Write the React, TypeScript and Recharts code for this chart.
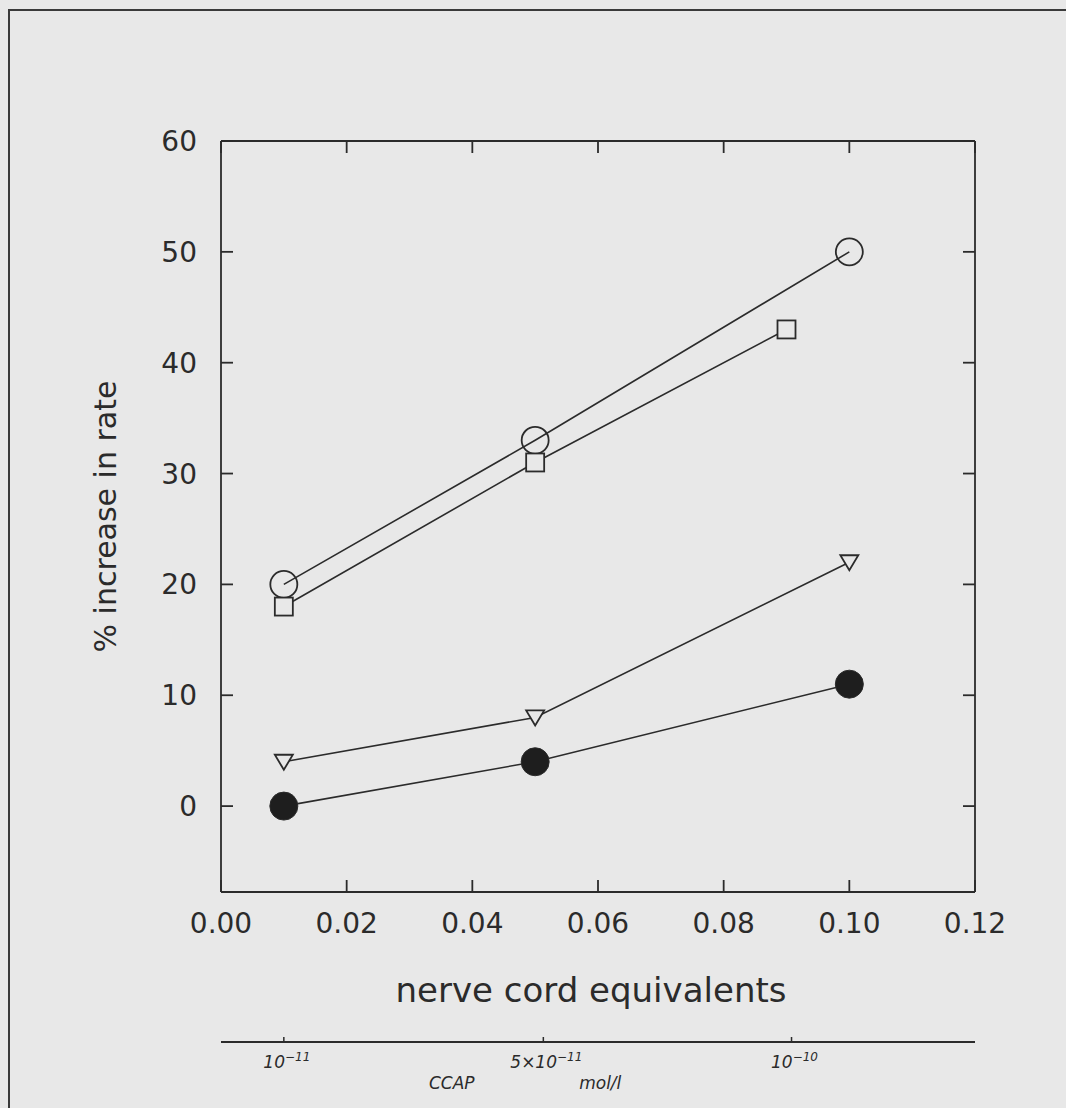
import { LineChart, Line, XAxis, YAxis, Label } from 'recharts';

// concentrations in nerve cord equivalents
const conc = [0.01, 0.05, 0.1];
const concSquare = [0.01, 0.05, 0.09];

// % increase in rate for the four preparations
const openCircle = [20, 33, 50];
const openSquare = [18, 31, 43];
const openTriangle = [4, 8, 22];
const filledCircle = [0, 4, 11];

const xTicks = [0, 0.02, 0.04, 0.06, 0.08, 0.1, 0.12];
const yTicks = [0, 10, 20, 30, 40, 50, 60];

// hand drawn CCAP scale under the graph
const ccapTicks = [0.01, 0.0513, 0.0908];
const ccapBase = ['10', '5×10', '10'];
const ccapExp = ['−11', '−11', '−10'];

const INK = '#2b2b2b';
const PAPER = '#e8e8e8';
const FONT = '"DejaVu Sans", sans-serif';
const TICK = 12;

const toPoints = (xs: number[], ys: number[]) => xs.map((x, i) => ({ x, y: ys[i] }));

const circleData = toPoints(conc, openCircle);
const squareData = toPoints(concSquare, openSquare);
const triangleData = toPoints(conc, openTriangle);
const filledData = toPoints(conc, filledCircle);

const OpenCircleDot = (p: any) => {
    if (p.cx == null || p.cy == null) return <g key={p.key} />;
    return <circle key={p.key} cx={p.cx} cy={p.cy} r={13.5} fill="none" stroke={INK} strokeWidth={1.8} />;
};

const SquareDot = (p: any) => {
    if (p.cx == null || p.cy == null) return <g key={p.key} />;
    return <rect key={p.key} x={p.cx - 9} y={p.cy - 9} width={18} height={18} fill={PAPER} stroke={INK} strokeWidth={1.8} />;
};

const TriangleDot = (p: any) => {
    if (p.cx == null || p.cy == null) return <g key={p.key} />;
    const d = `M${p.cx - 9},${p.cy - 7} L${p.cx + 9},${p.cy - 7} L${p.cx},${p.cy + 8} Z`;
    return <path key={p.key} d={d} fill={PAPER} stroke={INK} strokeWidth={1.8} />;
};

const FilledDot = (p: any) => {
    if (p.cx == null || p.cy == null) return <g key={p.key} />;
    return <circle key={p.key} cx={p.cx} cy={p.cy} r={14} fill="#1e1e1e" stroke={INK} strokeWidth={1} />;
};

// ticks point into the frame; tickSize is 0 so x/y sit tickMargin away from the axis line
const BottomTick = (p: any) => (
    <g>
        <line x1={p.x} x2={p.x} y1={p.y - 20} y2={p.y - 20 - TICK} stroke={INK} strokeWidth={1.8} />
        <text x={p.x} y={p.y + 21} textAnchor="middle" fontFamily={FONT} fontSize={28} fill={INK}>
            {p.payload.value.toFixed(2)}
        </text>
    </g>
);

const LeftTick = (p: any) => (
    <g>
        <line x1={p.x + 24} x2={p.x + 24 + TICK} y1={p.y} y2={p.y} stroke={INK} strokeWidth={1.8} />
        <text x={p.x} y={p.y + 10} textAnchor="end" fontFamily={FONT} fontSize={28} fill={INK}>
            {p.payload.value}
        </text>
    </g>
);

const TopTick = (p: any) => <line x1={p.x} x2={p.x} y1={p.y} y2={p.y + TICK} stroke={INK} strokeWidth={1.8} />;

const RightTick = (p: any) => <line x1={p.x} x2={p.x - TICK} y1={p.y} y2={p.y} stroke={INK} strokeWidth={1.8} />;

const CcapTick = (p: any) => {
    const i = ccapTicks.indexOf(p.payload.value);
    return (
        <g>
            <line x1={p.x} x2={p.x} y1={p.y} y2={p.y - 5} stroke={INK} strokeWidth={1.5} />
            <text x={p.x + 3} y={p.y + 26} textAnchor="middle" fontFamily={FONT} fontSize={17} fontStyle="italic" fill={INK}>
                {ccapBase[i]}
                <tspan dy={-7} fontSize={12}>{ccapExp[i]}</tspan>
            </text>
        </g>
    );
};

export default function App() {
    return (
        <div style={{ position: 'absolute', left: 0, top: 0, width: 1066, height: 1108, background: PAPER, overflow: 'hidden' }}>
            <div style={{ position: 'absolute', left: 8, top: 9, width: 1100, height: 1150, borderLeft: '2px solid #3a3a3a', borderTop: '2px solid #3a3a3a' }} />
            <LineChart
                width={1066}
                height={1108}
                margin={{ top: 140, right: 90, left: 121, bottom: 0 }}
                style={{ position: 'absolute', left: 0, top: 0 }}
            >
                <XAxis
                    xAxisId="a"
                    dataKey="x"
                    type="number"
                    domain={[0, 0.12]}
                    ticks={xTicks}
                    height={150}
                    tickSize={0}
                    tickMargin={20}
                    tick={BottomTick}
                    stroke={INK}
                    strokeWidth={1.8}
                    allowDataOverflow
                >
                    <Label
                        content={({ viewBox }: any) => (
                            <text x={viewBox.x + viewBox.width / 2 - 7} y={viewBox.y + 110} textAnchor="middle" fontFamily={FONT} fontSize={34} fill={INK}>
                                nerve cord equivalents
                            </text>
                        )}
                    />
                </XAxis>
                <XAxis
                    xAxisId="b"
                    dataKey="x"
                    type="number"
                    domain={[0, 0.12]}
                    ticks={ccapTicks}
                    height={66}
                    tickSize={0}
                    tickMargin={0}
                    tick={CcapTick}
                    stroke={INK}
                    strokeWidth={2}
                    allowDataOverflow
                >
                    <Label
                        content={({ viewBox }: any) => (
                            <g fontFamily={FONT} fontSize={17} fontStyle="italic" fill={INK}>
                                <text x={viewBox.x + viewBox.width * 0.306} y={viewBox.y + 47} textAnchor="middle">CCAP</text>
                                <text x={viewBox.x + viewBox.width * 0.503} y={viewBox.y + 47} textAnchor="middle">mol/l</text>
                            </g>
                        )}
                    />
                </XAxis>
                <XAxis
                    xAxisId="c"
                    dataKey="x"
                    orientation="top"
                    type="number"
                    domain={[0, 0.12]}
                    ticks={xTicks}
                    height={1}
                    tickSize={0}
                    tickMargin={0}
                    tick={TopTick}
                    stroke={INK}
                    strokeWidth={1.8}
                    allowDataOverflow
                />
                <YAxis
                    yAxisId="main"
                    type="number"
                    domain={[-7.75, 60]}
                    ticks={yTicks}
                    width={100}
                    tickSize={0}
                    tickMargin={24}
                    tick={LeftTick}
                    stroke={INK}
                    strokeWidth={1.8}
                    allowDataOverflow
                >
                    <Label
                        content={({ viewBox }: any) => {
                            const lx = viewBox.x - 5;
                            const ly = viewBox.y + viewBox.height / 2;
                            return (
                                <text x={lx} y={ly} transform={`rotate(-90 ${lx} ${ly})`} textAnchor="middle" fontFamily={FONT} fontSize={30} fill={INK}>
                                    % increase in rate
                                </text>
                            );
                        }}
                    />
                </YAxis>
                <YAxis
                    yAxisId="right"
                    orientation="right"
                    type="number"
                    domain={[-7.75, 60]}
                    ticks={yTicks}
                    width={1}
                    tickSize={0}
                    tickMargin={0}
                    tick={RightTick}
                    stroke={INK}
                    strokeWidth={1.8}
                    allowDataOverflow
                />
                {/* invisible carriers so the extra axes get a scale */}
                <Line xAxisId="b" yAxisId="right" data={circleData} dataKey="y" stroke="none" dot={false} activeDot={false} isAnimationActive={false} />
                <Line xAxisId="c" yAxisId="right" data={circleData} dataKey="y" stroke="none" dot={false} activeDot={false} isAnimationActive={false} />

                <Line xAxisId="a" yAxisId="main" data={circleData} dataKey="y" stroke={INK} strokeWidth={1.6} dot={OpenCircleDot} activeDot={false} isAnimationActive={false} />
                <Line xAxisId="a" yAxisId="main" data={squareData} dataKey="y" stroke={INK} strokeWidth={1.6} dot={SquareDot} activeDot={false} isAnimationActive={false} />
                <Line xAxisId="a" yAxisId="main" data={triangleData} dataKey="y" stroke={INK} strokeWidth={1.6} dot={TriangleDot} activeDot={false} isAnimationActive={false} />
                <Line xAxisId="a" yAxisId="main" data={filledData} dataKey="y" stroke={INK} strokeWidth={1.6} dot={FilledDot} activeDot={false} isAnimationActive={false} />
            </LineChart>
        </div>
    );
}
